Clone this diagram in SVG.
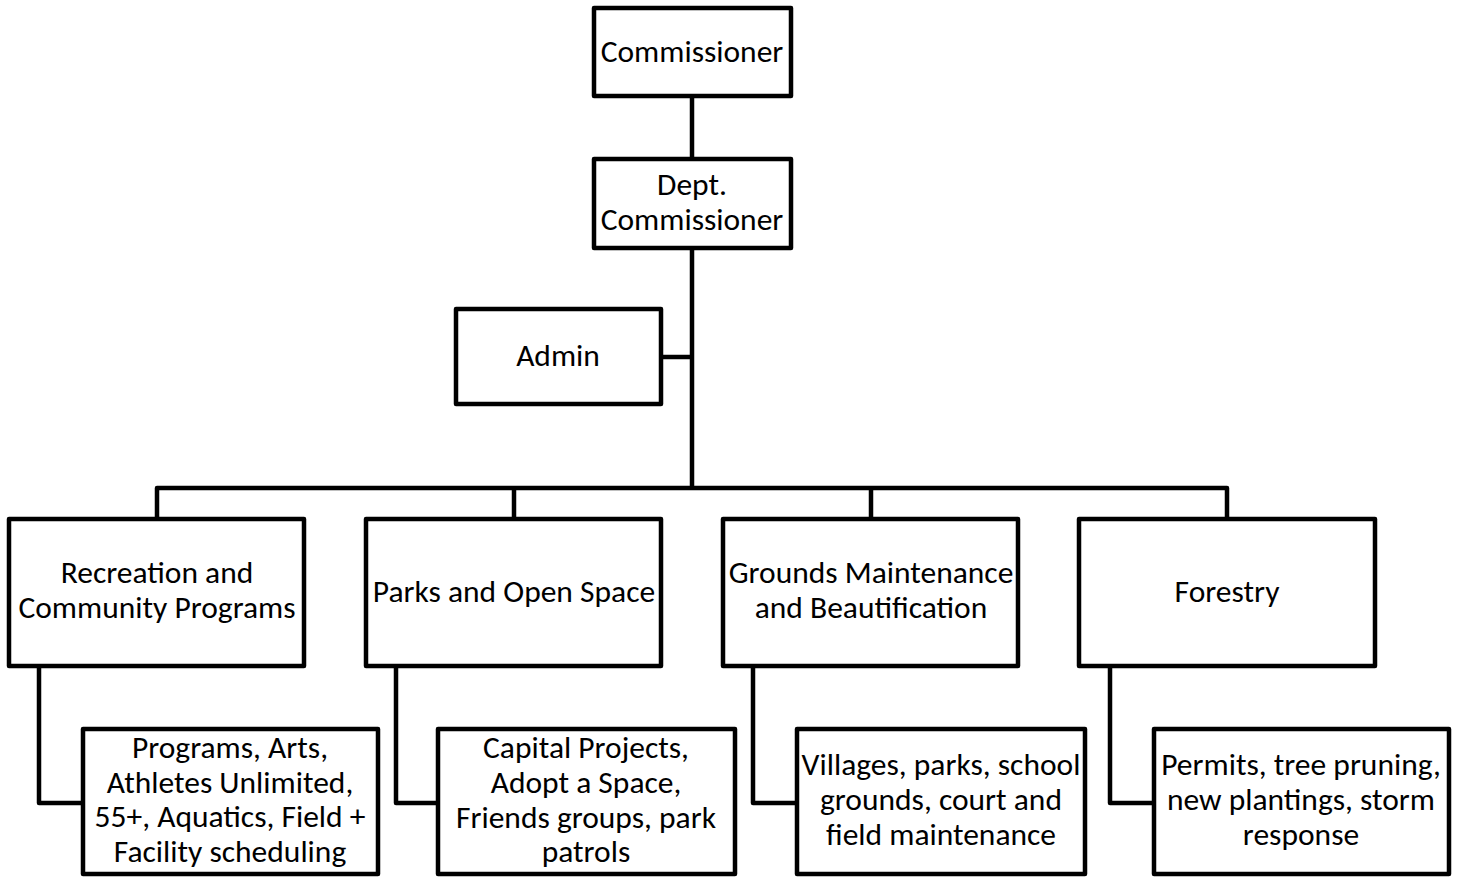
<svg xmlns="http://www.w3.org/2000/svg" width="1460" height="877" viewBox="0 0 1460 877">
<style>
.box{fill:#fff;stroke:#000;stroke-width:4.5;stroke-linejoin:round}
.con{fill:none;stroke:#000;stroke-width:4.5;stroke-linejoin:round}
text{font-family:Carlito,Calibri,Lato,"Liberation Sans",sans-serif;font-size:31.5px;fill:#000;text-anchor:middle}
</style>
<rect width="1460" height="877" fill="#fff"/>
<g id="connectors">
<path class="con" d="M692 96V159"/>
<path class="con" d="M692 248V488"/>
<path class="con" d="M661 357H692"/>
<path class="con" d="M157 519V488H1227V519"/>
<path class="con" d="M514 488V519"/>
<path class="con" d="M871 488V519"/>
<path class="con" d="M39 666V803H83"/>
<path class="con" d="M396 666V803H438"/>
<path class="con" d="M753 666V803H797"/>
<path class="con" d="M1110 666V803H1154"/>
</g>
<g id="commissioner">
<rect class="box" x="594" y="8" width="197" height="88"/>
<text x="692" y="62">Commissioner</text>
</g>
<g id="dept-commissioner">
<rect class="box" x="594" y="159" width="197" height="89"/>
<text x="692" y="195">Dept.</text>
<text x="692" y="230">Commissioner</text>
</g>
<g id="admin">
<rect class="box" x="456" y="309" width="205" height="95"/>
<text x="558" y="366">Admin</text>
</g>
<g id="recreation">
<rect class="box" x="9" y="519" width="295" height="147"/>
<text x="157" y="583">Recreation and</text>
<text x="157" y="618">Community Programs</text>
</g>
<g id="parks">
<rect class="box" x="366" y="519" width="295" height="147"/>
<text x="514" y="602">Parks and Open Space</text>
</g>
<g id="grounds">
<rect class="box" x="723" y="519" width="295" height="147"/>
<text x="871" y="583">Grounds Maintenance</text>
<text x="871" y="618">and Beautification</text>
</g>
<g id="forestry">
<rect class="box" x="1079" y="519" width="296" height="147"/>
<text x="1227" y="602">Forestry</text>
</g>
<g id="recreation-sub">
<rect class="box" x="83" y="729" width="295" height="145"/>
<text x="230" y="758">Programs, Arts,</text>
<text x="230" y="793">Athletes Unlimited,</text>
<text x="230" y="827">55+, Aquatics, Field +</text>
<text x="230" y="862">Facility scheduling</text>
</g>
<g id="parks-sub">
<rect class="box" x="438" y="729" width="297" height="145"/>
<text x="586" y="758">Capital Projects,</text>
<text x="586" y="793">Adopt a Space,</text>
<text x="586" y="828">Friends groups, park</text>
<text x="586" y="862">patrols</text>
</g>
<g id="grounds-sub">
<rect class="box" x="797" y="729" width="288" height="145"/>
<text x="941" y="775">Villages, parks, school</text>
<text x="941" y="810">grounds, court and</text>
<text x="941" y="845">field maintenance</text>
</g>
<g id="forestry-sub">
<rect class="box" x="1154" y="729" width="295" height="145"/>
<text x="1301" y="775">Permits, tree pruning,</text>
<text x="1301" y="810">new plantings, storm</text>
<text x="1301" y="845">response</text>
</g>
</svg>
